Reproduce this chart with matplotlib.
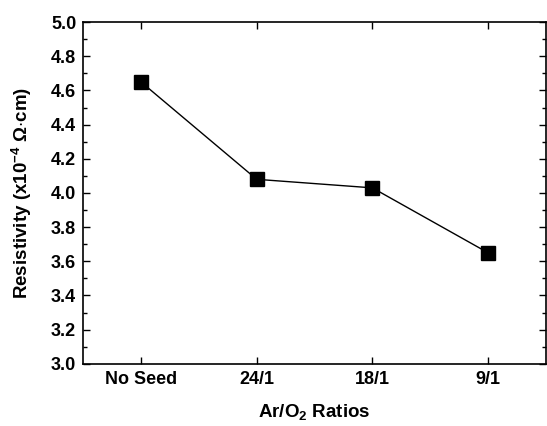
import matplotlib
matplotlib.use("Agg")
import matplotlib.pyplot as plt
from matplotlib.ticker import MultipleLocator, FormatStrFormatter

plt.rcParams['font.family'] = ['Liberation Sans', 'DejaVu Sans']
plt.rcParams['font.weight'] = 'bold'
plt.rcParams['mathtext.fontset'] = 'custom'
plt.rcParams['mathtext.rm'] = 'Liberation Sans:bold'
plt.rcParams['mathtext.bf'] = 'Liberation Sans:bold'
plt.rcParams['mathtext.default'] = 'bf'

categories = ["No Seed", "24/1", "18/1", "9/1"]
resistivity = [4.65, 4.08, 4.03, 3.65]

fig = plt.figure(figsize=(5.47, 4.26), dpi=100)
ax = fig.add_axes([0.152, 0.146, 0.846, 0.802])

x = range(len(categories))
ax.plot(x, resistivity, color='black', lw=1.0, marker='s', markersize=9.5,
        markerfacecolor='black', markeredgecolor='black')

ax.set_xlim(-0.5, 3.5)
ax.set_ylim(3.0, 5.0)
ax.set_xticks(list(x))
ax.set_xticklabels(categories)
ax.yaxis.set_major_locator(MultipleLocator(0.2))
ax.yaxis.set_minor_locator(MultipleLocator(0.1))
ax.yaxis.set_major_formatter(FormatStrFormatter('%.1f'))

ax.tick_params(which='both', direction='in', top=True, right=True,
               labelsize=13, width=1.0)
ax.tick_params(which='major', length=5, pad=5)
ax.tick_params(which='minor', length=3)
for lab in ax.get_xticklabels() + ax.get_yticklabels():
    lab.set_fontweight('bold')
for s in ax.spines.values():
    s.set_linewidth(1.2)

ax.set_xlabel(r"Ar/O$_2$ Ratios", fontsize=13.5, fontweight='bold', labelpad=10)
ax.set_ylabel(r"Resistivity (x10$^{-4}$ $\Omega$$\cdot$cm)",
              fontsize=13.5, fontweight='bold', labelpad=12)

fig.savefig("out.png", dpi=100)
